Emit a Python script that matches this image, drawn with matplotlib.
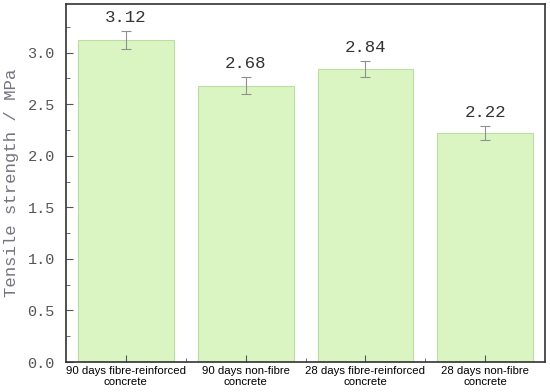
import matplotlib.pyplot as plt
import numpy as np
from matplotlib.ticker import MultipleLocator

categories = ["90 days fibre-reinforced\nconcrete", "90 days non-fibre\nconcrete",
              "28 days fibre-reinforced\nconcrete", "28 days non-fibre\nconcrete"]
values = [3.12, 2.68, 2.84, 2.22]
errors = [0.09, 0.08, 0.08, 0.07]
value_labels = ["3.12", "2.68", "2.84", "2.22"]

fig = plt.figure(figsize=(5.5, 3.92), dpi=100)
ax = fig.add_axes([0.12, 0.0765, 0.871, 0.913])

x = np.arange(len(categories))
ax.bar(x, values, width=0.8, color="#dbf5c2", edgecolor="#bcdca4", linewidth=0.8,
       yerr=errors, capsize=3.5, error_kw=dict(ecolor="#909090", elinewidth=0.8, capthick=0.8))

for xi, v, e, lab in zip(x, values, errors, value_labels):
    ax.text(xi, v + e + 0.06, lab, ha="center", va="bottom",
            family="Liberation Mono", fontsize=12.5, color="#333333")

ax.set_xlim(-0.5, 3.5)
ax.set_ylim(0, 3.47)
ax.set_xticks(x)
ax.set_xticklabels(categories, family="Liberation Sans", fontsize=8.2, color="black",
                   linespacing=1.15)
ax.set_xticks(x[:-1] + 0.5, minor=True)
ax.yaxis.set_major_locator(MultipleLocator(0.5))
ax.yaxis.set_minor_locator(MultipleLocator(0.25))
ax.set_yticklabels([f"{t:.1f}" for t in ax.get_yticks()])
for lab in ax.get_yticklabels():
    lab.set_family("Liberation Mono")
    lab.set_fontsize(11)
    lab.set_color("#555555")

ax.tick_params(axis="both", which="both", direction="in", color="#555555")
ax.tick_params(axis="both", which="major", length=5)
ax.tick_params(axis="both", which="minor", length=3)
ax.tick_params(axis="y", which="major", pad=8)
ax.tick_params(axis="x", which="major", pad=3)

for s in ax.spines.values():
    s.set_color("#333333")
    s.set_linewidth(1.2)

ax.set_ylabel("Tensile strength / MPa", family="Liberation Mono", fontsize=12.5,
              color="#77737f", labelpad=6)

fig.savefig("out.png", dpi=100)
